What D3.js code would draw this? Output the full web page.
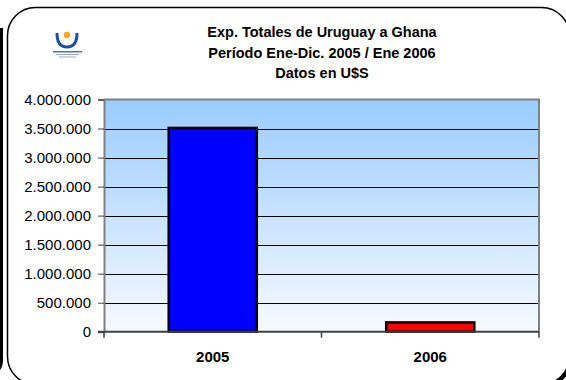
<!DOCTYPE html>
<html><head><meta charset="utf-8">
<script src="https://cdn.jsdelivr.net/npm/d3@7/dist/d3.min.js"></script>
<style>html,body{margin:0;padding:0;background:#fff;}svg{display:block;}</style>
</head><body>
<svg id="c" width="566" height="380"></svg>
<script>
const categories = ["2005", "2006"];
const values = [3510000, 160000];
const barColors = ["#0000FF", "#FF0000"];
const yTicks = [0, 500000, 1000000, 1500000, 2000000, 2500000, 3000000, 3500000, 4000000];
const titleLines = ["Exp. Totales de Uruguay a Ghana", "Período Ene-Dic. 2005 / Ene 2006", "Datos en U$S"];

(function () {
const svg = d3.select("#c");
const font = "'Liberation Sans', Arial, Helvetica, sans-serif";
const loc = d3.formatLocale({decimal: ",", thousands: ".", grouping: [3], currency: ["", ""]});
const fmt = loc.format(",d");

// neighbouring frame edge on the far left
svg.append("path").attr("d", "M1.5,28 L1.5,360 Q1.5,368 -4,372")
  .attr("fill", "none").attr("stroke", "#000").attr("stroke-width", 3);

// outer rounded frame with shadow
svg.append("rect").attr("x", 10).attr("y", 10).attr("width", 562).attr("height", 377).attr("rx", 28)
  .attr("fill", "#000");
svg.append("rect").attr("x", 7.5).attr("y", 7.5).attr("width", 562).attr("height", 377).attr("rx", 28)
  .attr("fill", "#fff").attr("stroke", "#000").attr("stroke-width", 1.5);

// logo
const logo = svg.append("g");
logo.append("path").attr("d", "M57,33 Q57,47 67,47 Q77,47 77,33").attr("fill", "none")
  .attr("stroke", "#1f4fa0").attr("stroke-width", 3);
logo.append("circle").attr("cx", 67).attr("cy", 35).attr("r", 3.2).attr("fill", "#f5a623");
logo.append("rect").attr("x", 53).attr("y", 51).attr("width", 29).attr("height", 1.5).attr("fill", "#5a6fa0");
logo.append("rect").attr("x", 56).attr("y", 54).attr("width", 23).attr("height", 1).attr("fill", "#9aa8c8");
logo.append("rect").attr("x", 59).attr("y", 56.5).attr("width", 17).attr("height", 1).attr("fill", "#9aa8c8");

// title
svg.append("g").selectAll("text").data(titleLines).join("text")
  .attr("x", 322).attr("y", (d, i) => 37 + i * 20.5)
  .attr("text-anchor", "middle").attr("font-family", font).attr("font-weight", "bold")
  .attr("font-size", "14.5px").attr("fill", "#000").text(d => d);

const pl = 104, pr = 539, pt = 99.5, pb = 331.7;
const x = d3.scaleBand().domain(categories).range([pl, pr]).paddingInner(0.595).paddingOuter(0.2975);
const y = d3.scaleLinear().domain([0, 4000000]).range([pb, pt]);

// gradient background
const defs = svg.append("defs");
const g = defs.append("linearGradient").attr("id", "bg").attr("x1", 0).attr("y1", 0).attr("x2", 0).attr("y2", 1);
g.append("stop").attr("offset", "0%").attr("stop-color", "#99CCFF");
g.append("stop").attr("offset", "100%").attr("stop-color", "#F7FAFF");
svg.append("rect").attr("x", pl).attr("y", pt).attr("width", pr - pl).attr("height", pb - pt)
  .attr("fill", "url(#bg)");

// gridlines
svg.append("g").selectAll("line").data(yTicks.filter(t => t > 0 && t < 4000000)).join("line")
  .attr("x1", pl).attr("x2", pr).attr("y1", d => Math.round(y(d)) + 0.5).attr("y2", d => Math.round(y(d)) + 0.5)
  .attr("stroke", "#000").attr("stroke-width", 1);

// plot border top & right
svg.append("path").attr("d", `M${pl},${pt} L${pr},${pt} L${pr},${pb}`)
  .attr("fill", "none").attr("stroke", "#808080").attr("stroke-width", 2);

// bars
svg.append("g").selectAll("rect").data(values).join("rect")
  .attr("x", (d, i) => x(categories[i])).attr("width", x.bandwidth())
  .attr("y", d => y(d)).attr("height", d => y(0) - y(d))
  .attr("fill", (d, i) => barColors[i]).attr("stroke", "#000").attr("stroke-width", 2.5);

// y axis
const yAxis = d3.axisLeft(y).tickValues(yTicks).tickFormat(fmt).tickSize(6).tickPadding(7);
const ya = svg.append("g").attr("transform", `translate(${pl},0)`).call(yAxis);
ya.select(".domain").attr("stroke", "#808080").attr("stroke-width", 2);
ya.selectAll(".tick line").attr("stroke", "#404040");
ya.selectAll("text").attr("font-family", font).attr("font-size", "15px").attr("fill", "#000");

// x axis
const xa = svg.append("g").attr("transform", `translate(0,${pb})`);
xa.append("line").attr("x1", pl - 6).attr("x2", pr).attr("y1", 0).attr("y2", 0)
  .attr("stroke", "#404040").attr("stroke-width", 2);
const bounds = [pl, pl + (pr - pl) / 2, pr];
xa.selectAll("line.t").data(bounds).join("line").attr("class", "t")
  .attr("x1", d => d).attr("x2", d => d).attr("y1", 0).attr("y2", 6).attr("stroke", "#404040").attr("stroke-width", 1.5);
xa.selectAll("text").data(categories).join("text")
  .attr("x", d => x(d) + x.bandwidth() / 2).attr("y", 30)
  .attr("text-anchor", "middle").attr("font-family", font).attr("font-weight", "bold")
  .attr("font-size", "15px").attr("fill", "#000").text(d => d);
})();
</script>
</body></html>
